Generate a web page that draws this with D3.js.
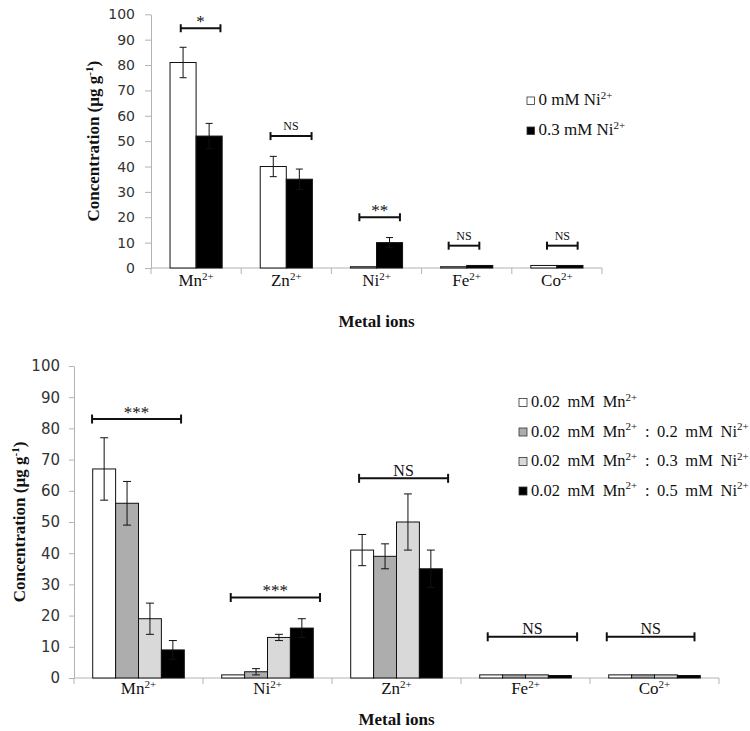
<!DOCTYPE html>
<html><head><meta charset="utf-8">
<script src="https://cdn.jsdelivr.net/npm/d3@7"></script>
<style>body{margin:0;background:#fff}svg{display:block}</style>
</head><body>
<svg id="chart" width="750" height="731"></svg>
<script>
// ---------- DATA ----------
const yTicks = [0,10,20,30,40,50,60,70,80,90,100];

// Top panel
const topCategories = ["Mn^{2+}","Zn^{2+}","Ni^{2+}","Fe^{2+}","Co^{2+}"];
const topSeriesNames = ["0 mM Ni^{2+}","0.3 mM Ni^{2+}"];
const topValuesNi0  = [81, 40, 0.5, 0.5, 1];
const topErrorsNi0  = [6, 4, 0, 0, 0];
const topValuesNi03 = [52, 35, 10, 1, 1];
const topErrorsNi03 = [5, 4, 2, 0, 0];
const topSigLabels  = ["*","NS","**","NS","NS"];
const topSigLevels  = [94.5, 52, 20, 8.8, 8.8];

// Bottom panel
const botCategories = ["Mn^{2+}","Ni^{2+}","Zn^{2+}","Fe^{2+}","Co^{2+}"];
const botSeriesNames = ["0.02 mM Mn^{2+}","0.02 mM Mn^{2+} : 0.2 mM Ni^{2+}","0.02 mM Mn^{2+} : 0.3 mM Ni^{2+}","0.02 mM Mn^{2+} : 0.5 mM Ni^{2+}"];
const botValuesMn     = [67, 1, 41, 1, 1];
const botErrorsMn     = [10, 0, 5, 0, 0];
const botValuesNi02   = [56, 2, 39, 1, 1];
const botErrorsNi02   = [7, 1, 4, 0, 0];
const botValuesNi03   = [19, 13, 50, 1, 1];
const botErrorsNi03   = [5, 1, 9, 0, 0];
const botValuesNi05   = [9, 16, 35, 0.8, 0.8];
const botErrorsNi05   = [3, 3, 6, 0, 0];
const botSigLabels    = ["***","***","NS","NS","NS"];
const botSigLevels    = [83, 25.8, 64, 13.2, 13.2];

// ---------- LAYOUT / STYLE ----------
const svg = d3.select("#chart");
const SERIF = "'Liberation Serif','Times New Roman',serif";
const SANS = "'DejaVu Sans',Verdana,sans-serif";

function rich(text, str, base, supSize){
  const parts = str.split(/(\^\{[^}]*\})/).filter(s=>s.length);
  const shift = base*0.38;
  let raised = false;
  parts.forEach(p=>{
    const m = p.match(/^\^\{(.*)\}$/);
    const t = text.append("tspan");
    if(m){ t.text(m[1]).attr("font-size", supSize); if(!raised){ t.attr("dy", -shift); raised = true; } }
    else { t.text(p); if(raised){ t.attr("dy", shift); raised = false; } }
  });
}

function drawPanel(cfg){
  const g = svg.append("g");
  const x = d3.scaleBand().domain(cfg.categories).range([cfg.x0, cfg.x1]).padding(0);
  const y = d3.scaleLinear().domain([0,100]).range([cfg.yBottom, cfg.yTop]);
  const bw = x.bandwidth();
  const inner = d3.scaleBand().domain(d3.range(cfg.series.length))
    .range([bw*cfg.groupStart, bw*(1-cfg.groupStart)]).padding(0);

  // y axis
  const yAxis = g.append("g").attr("transform",`translate(${cfg.x0},0)`)
    .call(d3.axisLeft(y).tickValues(yTicks).tickSize(cfg.yTickSize).tickSizeOuter(0).tickPadding(cfg.yTickPad));
  yAxis.select(".domain").attr("stroke","#b3b3b3");
  yAxis.selectAll(".tick line").attr("stroke","#b3b3b3");
  yAxis.selectAll(".tick text").attr("font-family",SANS).attr("font-size",cfg.tickFont).attr("fill","#333");

  // x axis line + boundary ticks
  const bounds = cfg.categories.map(c=>x(c)).concat([cfg.x1]);
  g.append("line").attr("x1",cfg.x0).attr("x2",cfg.x1).attr("y1",y(0)).attr("y2",y(0)).attr("stroke","#b3b3b3");
  g.selectAll(".xt").data(bounds).enter().append("line")
    .attr("x1",d=>d).attr("x2",d=>d).attr("y1",y(0)).attr("y2",y(0)+cfg.xTickSize).attr("stroke","#b3b3b3");

  // bars
  cfg.series.forEach((s,si)=>{
    g.selectAll(null).data(s.values).enter().append("rect")
      .attr("x",(d,i)=>x(cfg.categories[i])+inner(si))
      .attr("width",inner.bandwidth())
      .attr("y",d=>y(d))
      .attr("height",d=>y(0)-y(d))
      .attr("fill",s.color).attr("stroke","#111").attr("stroke-width",1);
  });
  // error bars
  cfg.series.forEach((s,si)=>{
    s.values.forEach((v,i)=>{
      const e = s.errors[i]; if(!e) return;
      const cx = x(cfg.categories[i])+inner(si)+inner.bandwidth()/2;
      const eg = g.append("g").attr("stroke","#111").attr("stroke-width",1);
      eg.append("line").attr("x1",cx).attr("x2",cx).attr("y1",y(v-e)).attr("y2",y(v+e));
      [v-e,v+e].forEach(t=>eg.append("line").attr("x1",cx-cfg.cap).attr("x2",cx+cfg.cap).attr("y1",y(t)).attr("y2",y(t)));
    });
  });

  // significance brackets
  cfg.sigLabels.forEach((lab,i)=>{
    const [f0,f1] = cfg.sigSpans[i];
    const xa = x(cfg.categories[i])+bw*f0, xb = x(cfg.categories[i])+bw*f1;
    const yy = y(cfg.sigLevels[i]);
    const bg = g.append("g").attr("stroke","#111").attr("stroke-width",2);
    bg.append("line").attr("x1",xa).attr("x2",xb).attr("y1",yy).attr("y2",yy);
    [xa,xb].forEach(xx=>bg.append("line").attr("x1",xx).attr("x2",xx).attr("y1",yy-cfg.bracketCap).attr("y2",yy+cfg.bracketCap));
    const isNS = lab==="NS";
    g.append("text").attr("x",(xa+xb)/2).attr("y",yy-(isNS?cfg.nsGap:cfg.starGap))
      .attr("text-anchor","middle").attr("font-family",SERIF)
      .attr("font-size",isNS?cfg.nsFont:cfg.starFont).attr("fill","#111").text(lab);
  });

  // category labels
  cfg.categories.forEach(c=>{
    const t = g.append("text").attr("x",x(c)+bw/2).attr("y",cfg.catLabelY)
      .attr("text-anchor","middle").attr("font-family",SERIF).attr("font-size",17).attr("fill","#111");
    rich(t,c,17,11);
  });

  // axis titles
  g.append("text").attr("x",(cfg.x0+cfg.x1)/2).attr("y",cfg.xTitleY).attr("text-anchor","middle")
    .attr("font-family",SERIF).attr("font-weight","bold").attr("font-size",17).attr("fill","#111").text("Metal ions");
  const yt = g.append("text").attr("transform",`translate(${cfg.yTitleX},${(cfg.yTop+cfg.yBottom)/2}) rotate(-90)`)
    .attr("text-anchor","middle").attr("font-family",SERIF).attr("font-weight","bold").attr("font-size",17).attr("fill","#111");
  rich(yt,"Concentration (µg g^{-1})",17,11);

  // legend
  cfg.series.forEach((s,si)=>{
    const ly = cfg.legendY + si*cfg.legendStep;
    g.append("rect").attr("x",cfg.legendX).attr("y",ly-cfg.sw-0.5).attr("width",cfg.sw).attr("height",cfg.sw)
      .attr("fill",s.color).attr("stroke","#333").attr("stroke-width",0.8);
    const t = g.append("text").attr("x",cfg.legendX+cfg.sw+4).attr("y",ly)
      .attr("font-family",SERIF).attr("font-size",cfg.legendFont).attr("fill","#111")
      .style("word-spacing",cfg.wordSpacing+"px");
    rich(t,s.name,cfg.legendFont,11);
  });
}

drawPanel({
  categories: topCategories,
  series: [
    {name: topSeriesNames[0], values: topValuesNi0, errors: topErrorsNi0, color: "#ffffff"},
    {name: topSeriesNames[1], values: topValuesNi03, errors: topErrorsNi03, color: "#000000"}
  ],
  sigLabels: topSigLabels, sigLevels: topSigLevels,
  sigSpans: [[0.33,0.77],[0.325,0.78],[0.31,0.76],[0.30,0.64],[0.39,0.73]],
  x0: 151, x1: 602, yTop: 14.3, yBottom: 268,
  groupStart: 0.211, cap: 3.5,
  yTickSize: 6, yTickPad: 10, tickFont: 14, xTickSize: 6,
  bracketCap: 4, starFont: 17, starGap: 1.5, nsFont: 12, nsGap: 6,
  catLabelY: 286, xTitleY: 327, yTitleX: 99,
  legendX: 527, legendY: 105, legendStep: 30, sw: 7.5, legendFont: 17, wordSpacing: 0
});

drawPanel({
  categories: botCategories,
  series: [
    {name: botSeriesNames[0], values: botValuesMn,   errors: botErrorsMn,   color: "#ffffff"},
    {name: botSeriesNames[1], values: botValuesNi02, errors: botErrorsNi02, color: "#adadad"},
    {name: botSeriesNames[2], values: botValuesNi03, errors: botErrorsNi03, color: "#d9d9d9"},
    {name: botSeriesNames[3], values: botValuesNi05, errors: botErrorsNi05, color: "#000000"}
  ],
  sigLabels: botSigLabels, sigLevels: botSigLevels,
  sigSpans: [[0.14,0.83],[0.215,0.907],[0.21,0.90],[0.207,0.90],[0.13,0.81]],
  x0: 74, x1: 719, yTop: 366, yBottom: 678,
  groupStart: 0.145, cap: 4,
  yTickSize: 5, yTickPad: 9, tickFont: 15, xTickSize: 6,
  bracketCap: 4.5, starFont: 17, starGap: 1.5, nsFont: 16, nsGap: 2.5,
  catLabelY: 694, xTitleY: 725, yTitleX: 25,
  legendX: 519, legendY: 407, legendStep: 29.5, sw: 8, legendFont: 16.5, wordSpacing: 3.5
});
</script>
</body></html>
